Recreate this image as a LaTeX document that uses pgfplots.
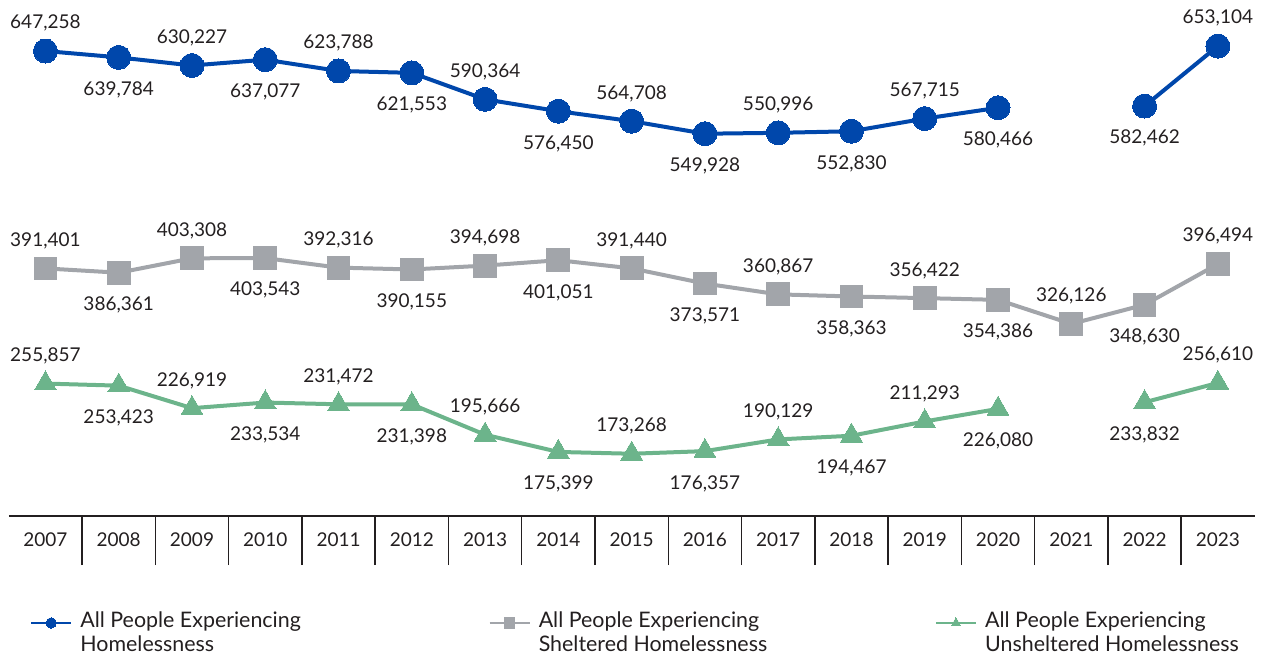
\documentclass[border=0pt]{standalone}
\usepackage{pgfplots}
\pgfplotsset{compat=1.18}
\usepackage{pgfplotstable}
\usepackage{fontspec}
\setmainfont{Lato}
\definecolor{cblue}{RGB}{0,71,171}
\definecolor{cgray}{RGB}{162,165,170}
\definecolor{cgreen}{RGB}{108,180,139}
\definecolor{txt}{RGB}{35,31,32}

% Blue: all people
\pgfplotstableread{
x y
0 647258
1 639784
2 630227
3 637077
4 623788
5 621553
6 590364
7 576450
8 564708
9 549928
10 550996
11 552830
12 567715
13 580466
14 nan
15 582462
16 653104
}\blueT
\pgfplotstableread{
x y label
0 647258 647,258
2 630227 630,227
4 623788 623,788
6 590364 590,364
8 564708 564,708
10 550996 550,996
12 567715 567,715
16 653104 653,104
}\blueUp
\pgfplotstableread{
x y label
1 639784 639,784
3 637077 637,077
5 621553 621,553
7 576450 576,450
9 549928 549,928
11 552830 552,830
13 580466 580,466
15 582462 582,462
}\blueDn
% Gray: sheltered
\pgfplotstableread{
x y
0 391401
1 386361
2 403308
3 403543
4 392316
5 390155
6 394698
7 401051
8 391440
9 373571
10 360867
11 358363
12 356422
13 354386
14 326126
15 348630
16 396494
}\grayT
\pgfplotstableread{
x y label
0 391401 391,401
2 403308 403,308
4 392316 392,316
6 394698 394,698
8 391440 391,440
10 360867 360,867
12 356422 356,422
14 326126 326,126
16 396494 396,494
}\grayUp
\pgfplotstableread{
x y label
1 386361 386,361
3 403543 403,543
5 390155 390,155
7 401051 401,051
9 373571 373,571
11 358363 358,363
13 354386 354,386
15 348630 348,630
}\grayDn
% Green: unsheltered
\pgfplotstableread{
x y
0 255857
1 253423
2 226919
3 233534
4 231472
5 231398
6 195666
7 175399
8 173268
9 176357
10 190129
11 194467
12 211293
13 226080
14 nan
15 233832
16 256610
}\greenT
\pgfplotstableread{
x y label
0 255857 255,857
2 226919 226,919
4 231472 231,472
6 195666 195,666
8 173268 173,268
10 190129 190,129
12 211293 211,293
16 256610 256,610
}\greenUp
\pgfplotstableread{
x y label
1 253423 253,423
3 233534 233,534
5 231398 231,398
7 175399 175,399
9 176357 176,357
11 194467 194,467
13 226080 226,080
15 233832 233,832
}\greenDn

\pgfplotsset{
  labup/.style={draw=none, mark=none, forget plot, point meta=explicit symbolic,
    nodes near coords, nodes near coords style={anchor=center, yshift=14.5pt, text=txt, text depth=0pt, inner sep=0pt}},
  labdn/.style={draw=none, mark=none, forget plot, point meta=explicit symbolic,
    nodes near coords, nodes near coords style={anchor=center, yshift=-15.5pt, text=txt, text depth=0pt, inner sep=0pt}},
  sblue/.style={cblue, line width=2pt, mark=*, mark size=6pt, mark options={fill=cblue, draw=cblue, line width=0pt}},
  sgray/.style={cgray, line width=2pt, mark=square*, mark size=5.7pt, mark options={fill=cgray, draw=cgray, line width=0pt}},
  sgreen/.style={cgreen, line width=2pt, mark=triangle*, mark size=6.3pt, mark options={fill=cgreen, draw=cgreen, line width=0pt}},
}

\begin{document}
\fontsize{9.5pt}{12pt}\selectfont
\color{txt}
\begin{tikzpicture}
\useasboundingbox (-4.4pt,-69pt) rectangle (628.1pt,258pt);
\begin{axis}[
  at={(0,0)}, anchor=south west,
  scale only axis,
  width=622.85pt, height=254.9pt,
  xmin=-0.5, xmax=16.5,
  ymin=100000, ymax=700000,
  clip=false,
  unbounded coords=jump,
  separate axis lines,
  axis x line*=bottom,
  axis y line=none,
  x axis line style={-, line width=1pt, color=txt},
  xtick={0,...,16},
  xticklabels={2007,2008,2009,2010,2011,2012,2013,2014,2015,2016,2017,2018,2019,2020,2021,2022,2023},
  major tick length=0pt,
  xticklabel style={anchor=center, yshift=-12pt, text=txt},
  extra x ticks={0.5,1.5,...,15.5},
  extra x tick labels={},
  extra x tick style={major tick length=24.5pt, tick align=outside, tick style={line width=0.75pt, color=txt}},
  legend columns=3,
  legend image code/.code={\draw[mark repeat=2,mark phase=2,#1,line width=1.2pt,mark size=2.6pt] plot coordinates {(0pt,0pt) (10pt,0pt) (20pt,0pt)};},
  legend style={draw=none, fill=none, inner sep=0pt, outer sep=0pt,
    at={(0,0)}, anchor=north west, xshift=10.6pt, yshift=-46pt,
    cells={anchor=mid west, inner sep=0pt, text=txt, font=\fontsize{10.7pt}{12pt}\selectfont},
    column sep=0pt,
    /tikz/every odd column/.style={column sep=2pt}},
]
\addplot[sblue] table[x=x, y=y] {\blueT};
\addlegendentry{\parbox[t]{202pt}{\baselineskip=12pt All People Experiencing\\Homelessness}}
\addplot[sgray] table[x=x, y=y] {\grayT};
\addlegendentry{\parbox[t]{196pt}{\baselineskip=12pt All People Experiencing\\Sheltered Homelessness}}
\addplot[sgreen] table[x=x, y=y] {\greenT};
\addlegendentry{\parbox[t]{135pt}{\baselineskip=12pt All People Experiencing\\Unsheltered Homelessness}}
\addplot[labup] table[x=x, y=y, meta=label] {\blueUp};
\addplot[labdn] table[x=x, y=y, meta=label] {\blueDn};
\addplot[labup] table[x=x, y=y, meta=label] {\grayUp};
\addplot[labdn] table[x=x, y=y, meta=label] {\grayDn};
\addplot[labup] table[x=x, y=y, meta=label] {\greenUp};
\addplot[labdn] table[x=x, y=y, meta=label] {\greenDn};
\end{axis}
\end{tikzpicture}
\end{document}
